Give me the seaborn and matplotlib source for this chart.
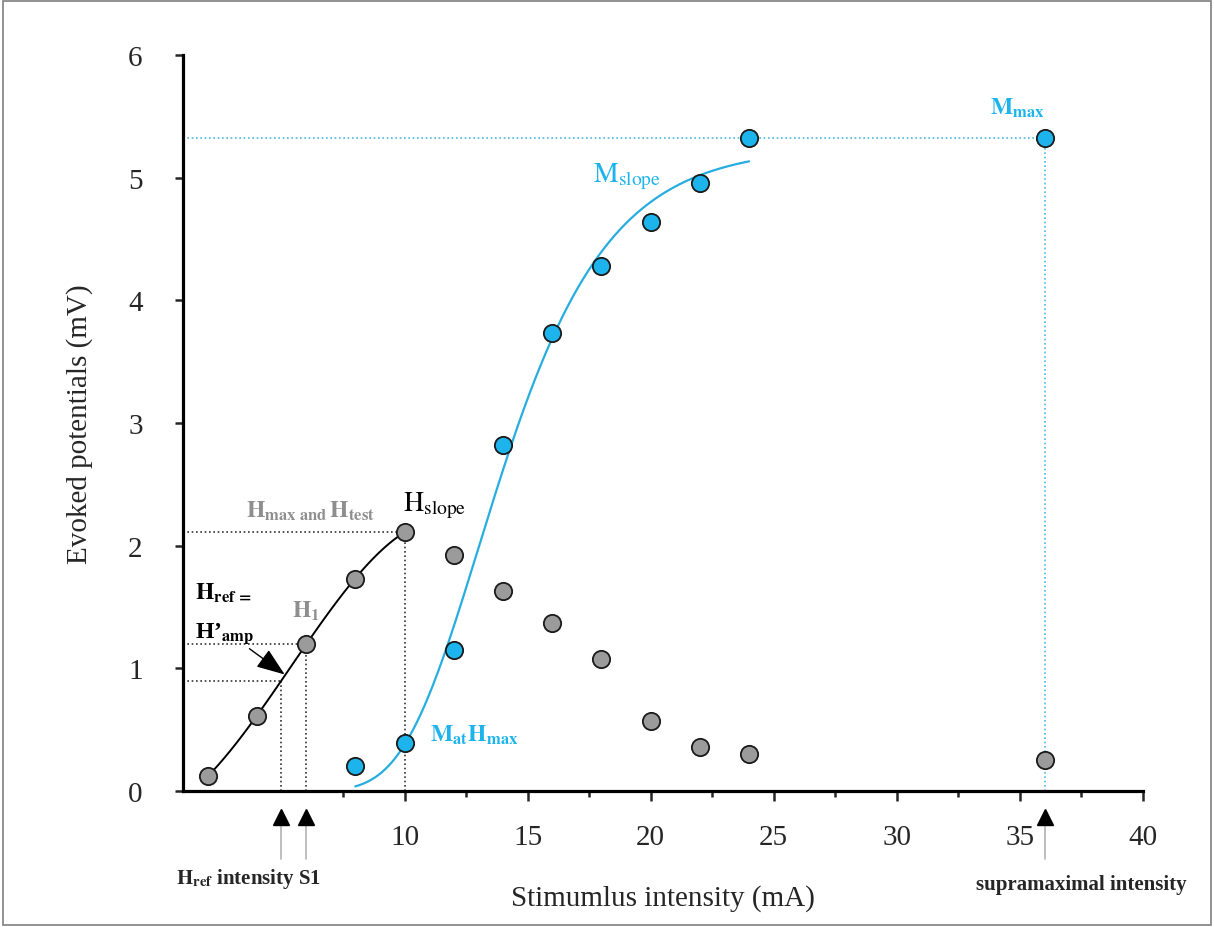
import numpy as np
import matplotlib
matplotlib.use("Agg")
import matplotlib.pyplot as plt
import matplotlib.transforms as mtransforms
import seaborn as sns

# -----------------------------------------
# 1. DATA
# -----------------------------------------

# H-reflex amplitudes (grey points)
h_x = [2, 4, 6, 8, 10, 12, 14, 16, 18, 20, 22, 24, 36]
h_y = [0.12, 0.61, 1.20, 1.73, 2.11, 1.92, 1.63, 1.37, 1.08, 0.57, 0.36, 0.30, 0.25]

# M-wave amplitudes (blue points)
m_x = [8, 10, 12, 14, 16, 18, 20, 22, 24, 36]
m_y = [0.20, 0.39, 1.15, 2.82, 3.73, 4.28, 4.64, 4.96, 5.32, 5.32]

h_ref_amp = 0.90      # H'amp / Href amplitude (mV)
h_ref_int = 5         # Href intensity (mA)
s1_int = 6            # S1 intensity (mA)
supra_int = 36        # supramaximal intensity (mA)

x_ticks = [10, 15, 20, 25, 30, 35, 40]
x_minor = [7.5, 12.5, 17.5, 22.5, 27.5, 32.5, 37.5]
y_ticks = [0, 1, 2, 3, 4, 5, 6]

BLUE = "#1db3ec"
BLUE_LINE = "#27ade0"
GREY = "#9b9b9b"
GREY_TXT = "#8e8e8e"

# -----------------------------------------
# 2. STYLE
# -----------------------------------------

sns.set_style("ticks")
plt.rcParams["font.family"] = ["Liberation Serif", "DejaVu Serif"]
plt.rcParams["mathtext.fontset"] = "stix"

fig = plt.figure(figsize=(12.14, 9.28), dpi=100)
ax = fig.add_axes([183 / 1214, 1 - 792 / 928, 960 / 1214, 736 / 928])

# -----------------------------------------
# 3. GUIDE LINES
# -----------------------------------------

x0 = 1
dot = (0, (1, 1.6))
h_max_x, h_max_y = h_x[4], h_y[4]
h1_x, h1_y = h_x[2], h_y[2]
m_max_x, m_max_y = m_x[-1], m_y[-1]

ax.plot([x0, h_max_x], [h_max_y, h_max_y], ls=dot, color="#333333", lw=1.2)
ax.plot([h_max_x, h_max_x], [0, h_max_y], ls=dot, color="#333333", lw=1.2)
ax.plot([x0, h1_x], [h1_y, h1_y], ls=dot, color="#333333", lw=1.2)
ax.plot([h1_x, h1_x], [0, h1_y], ls=dot, color="#333333", lw=1.2)
ax.plot([x0, h_ref_int], [h_ref_amp, h_ref_amp], ls=dot, color="#333333", lw=1.2)
ax.plot([h_ref_int, h_ref_int], [0, h_ref_amp], ls=dot, color="#333333", lw=1.2)
ax.plot([x0, m_max_x], [m_max_y, m_max_y], ls=dot, color="#4cb8e2", lw=1.2)
ax.plot([m_max_x, m_max_x], [0, m_max_y], ls=dot, color="#4cb8e2", lw=1.2)

# -----------------------------------------
# 4. FITTED CURVES
# -----------------------------------------

# H slope: cubic fit on the ascending part
sns.regplot(x=h_x[:5], y=h_y[:5], order=3, ci=None, scatter=False,
            truncate=True, color="black", line_kws=dict(lw=1.4), ax=ax)

# M slope: Richards (generalised logistic) fit, least squares over a grid
fx = np.array(m_x[:9], dtype=float)
fy = np.array(m_y[:9])
A = np.linspace(4.9, 6.2, 27)[:, None, None, None, None]
xm = np.linspace(11, 16, 51)[None, :, None, None, None]
k = np.linspace(0.8, 4.0, 33)[None, None, :, None, None]
nu = np.linspace(0.05, 1.5, 30)[None, None, None, :, None]


def richards(x, A, xm, k, nu):
    return A * (1 + nu * np.exp(-(x - xm) / k)) ** (-1 / nu)


sse = ((richards(fx, A, xm, k, nu) - fy) ** 2).sum(-1)
best = np.unravel_index(np.argmin(sse), sse.shape)
pA, pxm, pk, pnu = (A.ravel()[best[0]], xm.ravel()[best[1]],
                    k.ravel()[best[2]], nu.ravel()[best[3]])
cx = np.linspace(fx.min(), fx.max(), 300)
cy = richards(cx, pA, pxm, pk, pnu)
sns.lineplot(x=cx, y=cy, color=BLUE_LINE, lw=1.6, ax=ax)

# -----------------------------------------
# 5. POINTS
# -----------------------------------------

sns.scatterplot(x=h_x, y=h_y, s=155, color=GREY, edgecolor="#1a1a1a",
                linewidth=1.3, zorder=5, legend=False, ax=ax)
sns.scatterplot(x=m_x, y=m_y, s=155, color=BLUE, edgecolor="#1a1a1a",
                linewidth=1.3, zorder=5, legend=False, ax=ax)

# -----------------------------------------
# 6. AXES
# -----------------------------------------

ax.set_xlim(x0, 40)
ax.set_ylim(0, 6)
ax.set_xticks(x_ticks)
ax.set_xticks(x_minor, minor=True)
ax.set_yticks(y_ticks)
sns.despine(ax=ax)
for s in ["left", "bottom"]:
    ax.spines[s].set_linewidth(2.3)
    ax.spines[s].set_color("black")
ax.tick_params(axis="x", which="major", length=7, width=1.8, pad=17, labelsize=21)
ax.tick_params(axis="x", which="minor", length=4.5, width=1.8)
ax.tick_params(axis="y", length=6, width=1.8, pad=23, labelsize=21)

ax.set_xlabel("Stimumlus intensity (mA)", fontsize=21)
ax.set_ylabel("Evoked potentials (mV)", fontsize=21)
ax.xaxis.set_label_coords(0.5, -0.127)
ax.yaxis.set_label_coords(-0.094, 0.5)

# -----------------------------------------
# 7. ANNOTATIONS
# -----------------------------------------

ax.text(9.95, 2.29, r"$\mathrm{H}_{\mathrm{slope}}$", fontsize=20, color="black")
ax.text(3.57, 2.24, r"$\mathbf{H}_{\mathbf{max\ and}}\,\mathbf{H}_{\mathbf{test}}$",
        fontsize=17, color=GREY_TXT)
ax.text(1.5, 1.57, r"$\mathbf{H}_{\mathbf{ref\,=}}$", fontsize=17, color="black")
ax.text(1.5, 1.26, "H’" + r"$_{\mathbf{amp}}$", fontsize=17, fontweight="bold",
        color="black")
ax.text(5.44, 1.42, r"$\mathbf{H}_{\mathbf{1}}$", fontsize=17, color=GREY_TXT)
ax.text(17.67, 4.97, r"$\mathrm{M}_{\mathrm{slope}}$", fontsize=20, color=BLUE)
ax.text(33.8, 5.52, r"$\mathbf{M}_{\mathbf{max}}$", fontsize=17, color=BLUE)
ax.text(11.05, 0.41, r"$\mathbf{M}_{\mathbf{at}}\mathbf{H}_{\mathbf{max}}$",
        fontsize=17, color=BLUE)

ax.annotate("", xy=(h_ref_int + 0.13, h_ref_amp + 0.05), xytext=(3.7, 1.16),
            arrowprops=dict(arrowstyle="-|>,head_length=0.8,head_width=0.3",
                            color="black", lw=1, shrinkA=0, shrinkB=0,
                            mutation_scale=22))

trans = mtransforms.blended_transform_factory(ax.transData, ax.transAxes)
for xv in [h_ref_int, s1_int, supra_int]:
    ax.plot([xv, xv], [-0.046, -0.093], transform=trans, color="#b3b3b3",
            lw=1.2, clip_on=False)
    ax.plot([xv], [-0.0355], marker="^", ms=11, color="black",
            transform=trans, clip_on=False)

ax.text(0.73, -0.125, r"$\mathbf{H}_{\mathbf{ref}}$" + " intensity S1", transform=trans,
        fontsize=15, fontweight="bold", ha="left")
ax.text(37.5, -0.133, "supramaximal intensity", transform=trans,
        fontsize=15, fontweight="bold", ha="center")

# thin frame round the whole figure
fig.add_artist(plt.Rectangle((3 / 1214, 2 / 928), 1 - 6 / 1214, 1 - 4 / 928,
                             transform=fig.transFigure, fill=False,
                             ec="#7f7f7f", lw=1.2))

plt.savefig("out.png", dpi=100)
